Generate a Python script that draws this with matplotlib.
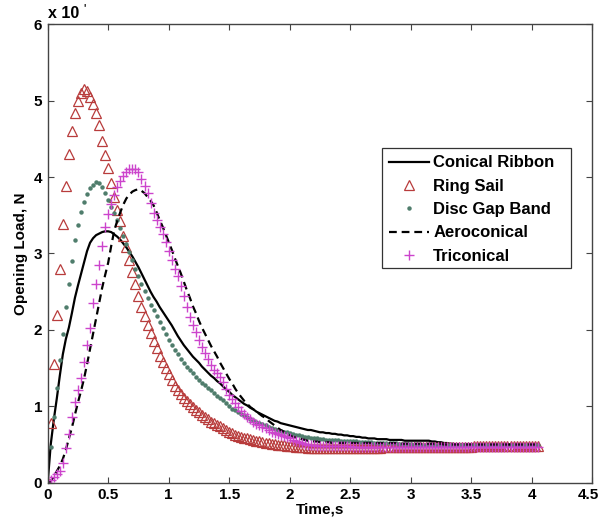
import numpy as np
import matplotlib
matplotlib.use("Agg")
import matplotlib.pyplot as plt
import matplotlib.transforms as mtransforms
from matplotlib.patches import Rectangle

plt.rcParams['font.family'] = ['Liberation Sans', 'DejaVu Sans']
plt.rcParams['font.weight'] = 'bold'

# time grid (s), sampling step 0.025 s
time = np.round(np.arange(0, 4.0501, 0.025), 3)

# Opening load (x 10^4 N)
conical_ribbon = [
    0, 0.5, 0.82, 1.1, 1.4, 1.68, 1.88, 2.03, 2.22, 2.42,
    2.58, 2.73, 2.88, 3.03, 3.14, 3.2, 3.24, 3.26, 3.28, 3.29,
    3.29, 3.28, 3.25, 3.22, 3.18, 3.13, 3.08, 3.02, 2.96, 2.89,
    2.82, 2.74, 2.66, 2.58, 2.5, 2.43, 2.37, 2.3, 2.24, 2.18,
    2.12, 2.06, 1.99, 1.92, 1.86, 1.8, 1.75, 1.7, 1.65, 1.61,
    1.57, 1.52, 1.48, 1.44, 1.4, 1.37, 1.33, 1.3, 1.26, 1.22,
    1.19,
    1.15, 1.12, 1.09, 1.06, 1.03, 1.01, 0.98, 0.96, 0.93, 0.91,
    0.89, 0.87, 0.85, 0.83, 0.81, 0.8, 0.78, 0.77, 0.76, 0.75,
    0.74, 0.73, 0.72, 0.71, 0.70, 0.69, 0.69, 0.68, 0.67, 0.66,
    0.66, 0.65, 0.65, 0.64, 0.64, 0.63, 0.63, 0.62, 0.62, 0.61,
    0.61, 0.60, 0.60, 0.59, 0.59, 0.58, 0.58, 0.58, 0.57, 0.57,
    0.57, 0.57, 0.56, 0.56, 0.56, 0.56, 0.56, 0.55, 0.55, 0.55,
    0.55, 0.55, 0.55, 0.55, 0.55, 0.55, 0.54, 0.54, 0.53, 0.53,
    0.52, 0.52, 0.51, 0.51, 0.50, 0.50, 0.50, 0.50, 0.50, 0.50,
    0.50, 0.50, 0.50, 0.50, 0.50, 0.50, 0.50, 0.50, 0.50, 0.50,
    0.50, 0.50, 0.50, 0.50, 0.50, 0.50, 0.50, 0.50, 0.50, 0.50,
    0.50, 0.50,
]

ring_sail = [
    0, 0.78, 1.55, 2.2, 2.8, 3.38, 3.88, 4.3, 4.6, 4.84,
    5.0, 5.1, 5.15, 5.13, 5.05, 4.95, 4.84, 4.68, 4.47, 4.29,
    4.12, 3.92, 3.74, 3.57, 3.42, 3.23, 3.08, 2.91, 2.76, 2.6,
    2.45, 2.3, 2.18, 2.07, 1.96, 1.86, 1.76, 1.66, 1.58, 1.5,
    1.42, 1.34, 1.27, 1.21, 1.16, 1.11, 1.07, 1.03, 0.99, 0.95,
    0.92, 0.89, 0.86, 0.83, 0.8, 0.78, 0.76, 0.74, 0.72, 0.69,
    0.66,
    0.645, 0.63, 0.615, 0.6, 0.59, 0.58, 0.57, 0.56, 0.55, 0.54,
    0.53, 0.52, 0.515, 0.51, 0.505, 0.5, 0.495, 0.49, 0.485, 0.48,
    0.475, 0.47, 0.47, 0.465, 0.465, 0.46, 0.46, 0.46, 0.46, 0.46,
    0.46, 0.46, 0.46, 0.46, 0.46, 0.46, 0.46, 0.46, 0.46, 0.46,
    0.46, 0.46, 0.46, 0.46, 0.46, 0.46, 0.46, 0.46, 0.46, 0.46,
    0.47, 0.47, 0.47, 0.47, 0.47, 0.47, 0.47, 0.47, 0.47, 0.47,
    0.47, 0.47, 0.47, 0.47, 0.47, 0.47, 0.47, 0.47, 0.47, 0.47,
    0.47, 0.47, 0.47, 0.47, 0.47, 0.47, 0.47, 0.47, 0.47, 0.47,
    0.48, 0.48, 0.48, 0.48, 0.48, 0.48, 0.48, 0.48, 0.48, 0.48,
    0.48, 0.48, 0.48, 0.48, 0.48, 0.48, 0.48, 0.48, 0.48, 0.48,
    0.48, 0.48,
]

disc_gap_band = [
    0, 0.47, 0.86, 1.24, 1.6, 1.95, 2.3, 2.6, 2.9, 3.17,
    3.37, 3.54, 3.68, 3.78, 3.86, 3.9, 3.93, 3.92, 3.87, 3.79,
    3.7, 3.61, 3.53, 3.44, 3.34, 3.23, 3.12, 3.02, 2.91, 2.8,
    2.7, 2.6, 2.51, 2.42, 2.33, 2.26, 2.18, 2.1, 2.02, 1.94,
    1.87, 1.8, 1.74, 1.68, 1.62, 1.57, 1.52, 1.47, 1.43, 1.39,
    1.35, 1.31, 1.28, 1.24, 1.21, 1.18, 1.14, 1.11, 1.08, 1.04,
    1.0,
    0.97, 0.95, 0.92, 0.9, 0.88, 0.86, 0.84, 0.82, 0.8, 0.78,
    0.765, 0.75, 0.735, 0.72, 0.705, 0.69, 0.68, 0.67, 0.66, 0.65,
    0.64, 0.63, 0.62, 0.61, 0.60, 0.595, 0.59, 0.585, 0.58, 0.575,
    0.57, 0.565, 0.56, 0.56, 0.555, 0.555, 0.55, 0.55, 0.545, 0.545,
    0.54, 0.54, 0.535, 0.535, 0.53, 0.53, 0.53, 0.525, 0.525, 0.52,
    0.52, 0.52, 0.515, 0.515, 0.515, 0.51, 0.51, 0.51, 0.51, 0.505,
    0.50, 0.50, 0.50, 0.50, 0.50, 0.50, 0.50, 0.50, 0.50, 0.50,
    0.50, 0.50, 0.50, 0.50, 0.50, 0.50, 0.50, 0.50, 0.50, 0.50,
    0.50, 0.50, 0.50, 0.50, 0.50, 0.50, 0.50, 0.50, 0.50, 0.50,
    0.50, 0.50, 0.50, 0.50, 0.50, 0.50, 0.50, 0.50, 0.50, 0.50,
    0.50, 0.50,
]

aeroconical = [
    0, 0.02, 0.08, 0.15, 0.22, 0.31, 0.43, 0.58, 0.72, 0.89,
    1.05, 1.2, 1.36, 1.55, 1.75, 1.95, 2.15, 2.35, 2.55, 2.72,
    2.88, 3.1, 3.3, 3.43, 3.54, 3.64, 3.72, 3.77, 3.81, 3.83,
    3.84, 3.82, 3.79, 3.74, 3.69, 3.63, 3.54, 3.44, 3.35, 3.25,
    3.15, 3.05, 2.94, 2.84, 2.74, 2.63, 2.52, 2.42, 2.31, 2.22,
    2.12, 2.03, 1.95, 1.87, 1.79, 1.72, 1.65, 1.57, 1.5, 1.43,
    1.36,
    1.3, 1.23, 1.17, 1.12, 1.07, 1.03, 0.99, 0.96, 0.93, 0.9,
    0.87, 0.85, 0.81, 0.78, 0.75, 0.72, 0.69, 0.67, 0.64, 0.62,
    0.6, 0.59, 0.58, 0.57, 0.56, 0.55, 0.55, 0.54, 0.54, 0.53,
    0.53, 0.53, 0.53, 0.52, 0.52, 0.52, 0.52, 0.52, 0.52, 0.52,
    0.52, 0.52, 0.52, 0.52, 0.52, 0.52, 0.52, 0.52, 0.52, 0.52,
    0.52, 0.52, 0.52, 0.52, 0.52, 0.51, 0.51, 0.51, 0.51, 0.51,
    0.51, 0.51, 0.51, 0.51, 0.51, 0.51, 0.51, 0.51, 0.51, 0.51,
    0.50, 0.50, 0.50, 0.50, 0.50, 0.50, 0.50, 0.50, 0.50, 0.50,
    0.50, 0.50, 0.50, 0.50, 0.50, 0.50, 0.50, 0.50, 0.50, 0.50,
    0.50, 0.50, 0.50, 0.50, 0.50, 0.50, 0.50, 0.50, 0.50, 0.50,
    0.50, 0.50,
]

triconical = [
    0, 0.03, 0.07, 0.11, 0.16, 0.26, 0.45, 0.64, 0.86, 1.06,
    1.22, 1.37, 1.58, 1.8, 2.03, 2.35, 2.6, 2.85, 3.1, 3.35,
    3.52, 3.65, 3.77, 3.87, 3.95, 4.02, 4.07, 4.1, 4.11, 4.1,
    4.06, 3.97, 3.88, 3.79, 3.66, 3.53, 3.44, 3.35, 3.25, 3.15,
    3.03, 2.91, 2.8, 2.7, 2.58, 2.45, 2.3, 2.17, 2.07, 1.97,
    1.87, 1.78, 1.7, 1.62, 1.54, 1.48, 1.43, 1.38, 1.32, 1.23,
    1.15,
    1.09, 1.04, 0.99, 0.94, 0.9, 0.86, 0.83, 0.8, 0.775, 0.75,
    0.73, 0.71, 0.69, 0.67, 0.655, 0.64, 0.625, 0.61, 0.595, 0.58,
    0.565, 0.55, 0.535, 0.52, 0.51, 0.5, 0.495, 0.49, 0.485, 0.48,
    0.48, 0.48, 0.48, 0.48, 0.48, 0.475, 0.475, 0.475, 0.475, 0.475,
    0.47, 0.47, 0.47, 0.47, 0.47, 0.47, 0.47, 0.47, 0.47, 0.47,
    0.47, 0.47, 0.47, 0.47, 0.47, 0.47, 0.47, 0.47, 0.47, 0.47,
    0.47, 0.47, 0.47, 0.47, 0.47, 0.47, 0.47, 0.47, 0.47, 0.47,
    0.47, 0.47, 0.47, 0.47, 0.47, 0.47, 0.47, 0.47, 0.47, 0.47,
    0.47, 0.47, 0.47, 0.47, 0.47, 0.47, 0.47, 0.47, 0.47, 0.47,
    0.47, 0.47, 0.47, 0.47, 0.47, 0.47, 0.47, 0.47, 0.47, 0.47,
    0.47, 0.47,
]

legend_labels = ['Conical Ribbon', 'Ring Sail', 'Disc Gap Band', 'Aeroconical', 'Triconical']
x_ticks = [0, 0.5, 1, 1.5, 2, 2.5, 3, 3.5, 4, 4.5]
x_tick_labels = ['0', '0.5', '1', '1.5', '2', '2.5', '3', '3.5', '4', '4.5']
y_ticks = [0, 1, 2, 3, 4, 5, 6]

fig = plt.figure(figsize=(6.0, 5.27), dpi=100)
ax = fig.add_axes([0.0795, 0.084, 0.9075, 0.870])

ax.plot(time, conical_ribbon, color='black', lw=1.6, label=legend_labels[0])
ax.plot(time, ring_sail, ls='none', marker='^', ms=6.5, mfc='none', mec='#b83c3c',
        mew=0.9, label=legend_labels[1])
ax.plot(time, disc_gap_band, ls='none', marker='o', ms=2.2, mfc='#4f7d6c', mec='#4f7d6c',
        label=legend_labels[2])
ax.plot(time, aeroconical, color='black', lw=1.6, ls=(0, (3.5, 2.2)), label=legend_labels[3])
ax.plot(time, triconical, ls='none', marker='+', ms=7, mec='#cc44cc', mew=1.0,
        label=legend_labels[4])

ax.set_xlim(0, 4.5)
ax.set_ylim(0, 6)
ax.set_xticks(x_ticks)
ax.set_xticklabels(x_tick_labels)
ax.set_yticks(y_ticks)
ax.tick_params(direction='in', top=True, right=True, length=4, width=0.8,
               labelsize=11, color='#444444', pad=4)
for lab in ax.get_xticklabels() + ax.get_yticklabels():
    lab.set_fontweight('bold')
# keep the last x tick label inside the image
last = ax.get_xticklabels()[-1]
last.set_transform(last.get_transform() +
                   mtransforms.ScaledTranslation(-4 / 100, 0, fig.dpi_scale_trans))
for sp in ax.spines.values():
    sp.set_color('#444444')
    sp.set_linewidth(1.0)

ax.set_xlabel('Time,s', fontsize=11, fontweight='bold', labelpad=0)
ax.set_ylabel('Opening Load, N', fontsize=11, fontweight='bold', labelpad=4)

ax.text(0.0, 1.006, 'x 10', transform=ax.transAxes, fontsize=11.5, fontweight='bold',
        ha='left', va='bottom')
ax.text(0.066, 1.045, "'", transform=ax.transAxes, fontsize=7, fontweight='bold',
        ha='left', va='top')

# legend frame (drawn separately, as in the reference with extra right padding)
ax.add_patch(Rectangle((0.614, 0.469), 0.347, 0.260, transform=ax.transAxes,
                       facecolor='white', edgecolor='#333333', lw=0.9, zorder=4))
leg = ax.legend(loc='upper left', bbox_to_anchor=(0.627, 0.714), fontsize=12,
                frameon=False, handlelength=2.4, handletextpad=0.25, borderpad=0,
                labelspacing=0.5, borderaxespad=0)
leg.set_zorder(5)
for txt in leg.get_texts():
    txt.set_fontweight('bold')

fig.savefig('out.png', dpi=100)
